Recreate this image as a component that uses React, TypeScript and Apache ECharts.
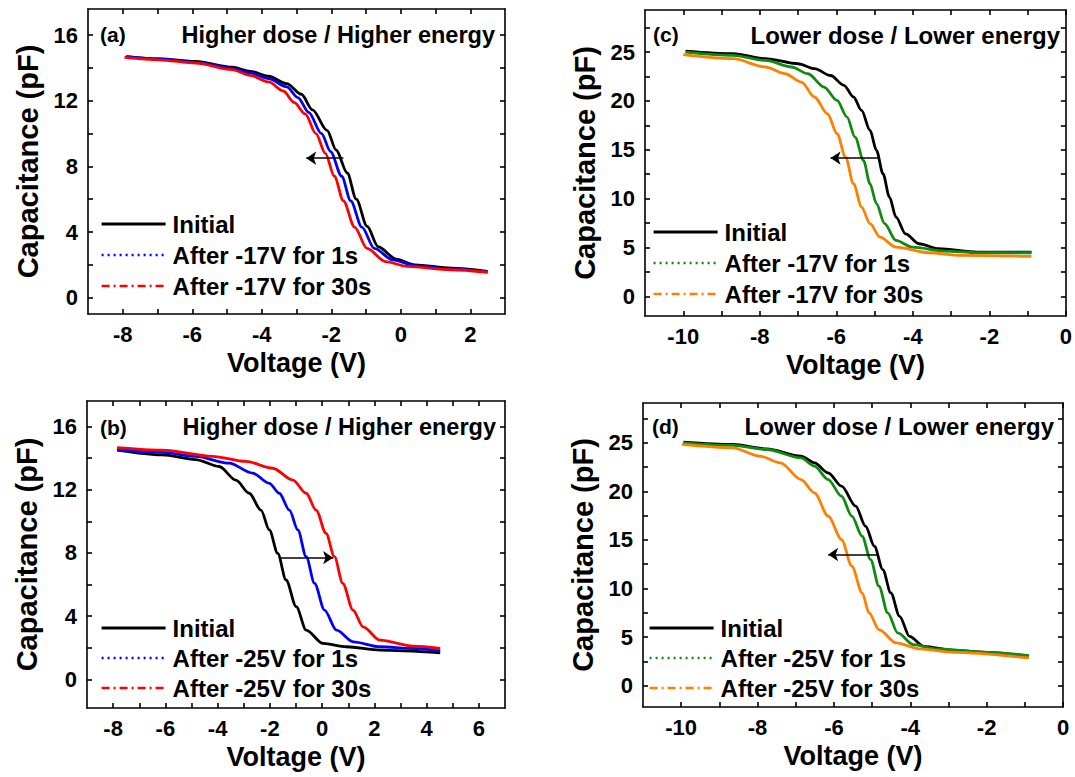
import React, { useEffect, useRef } from 'react';
import * as echarts from 'echarts';

const FONT = '"Liberation Sans", Arial, Helvetica, sans-serif';

// ---------- Panel (a): Higher dose / Higher energy, -17V ----------
const aInitial = [[-7.9,14.7],[-6.95,14.55],[-5.9,14.4],[-4.85,14.05],[-4.33,13.8],[-3.8,13.5],[-3.28,13.05],[-2.86,12.4],[-2.54,11.45],[-2.12,10.2],[-1.86,9.0],[-1.54,7.6],[-1.28,6.0],[-0.97,4.35],[-0.65,3.1],[-0.13,2.35],[0.4,2.0],[1.45,1.8],[2.5,1.6]];
const aAfter1s = [[-7.9,14.7],[-6.95,14.55],[-5.9,14.35],[-4.85,14.0],[-4.33,13.7],[-3.8,13.35],[-3.28,12.85],[-2.96,12.2],[-2.65,11.3],[-2.28,10.0],[-2.02,8.9],[-1.7,7.4],[-1.44,5.9],[-1.12,4.3],[-0.76,3.0],[-0.23,2.3],[0.4,1.95],[1.45,1.75],[2.5,1.55]];
const aAfter30s = [[-7.95,14.65],[-6.95,14.5],[-5.9,14.3],[-4.85,13.9],[-4.33,13.55],[-3.8,13.15],[-3.38,12.6],[-3.07,11.9],[-2.75,11.2],[-2.44,10.0],[-2.17,8.8],[-1.91,7.4],[-1.65,5.9],[-1.33,4.3],[-0.97,3.0],[-0.44,2.2],[0.19,1.9],[1.45,1.7],[2.5,1.55]];
const aArrow = [[-1.65, 8.5], [-2.72, 8.5]];

// ---------- Panel (b): Higher dose / Higher energy, -25V ----------
const bInitial = [[-7.85,14.5],[-6.12,14.2],[-4.84,13.9],[-3.94,13.46],[-3.3,12.6],[-2.79,11.77],[-2.34,10.7],[-2.02,9.45],[-1.7,7.97],[-1.38,6.29],[-0.99,4.6],[-0.61,3.12],[0.03,2.28],[0.93,2.07],[2.21,1.86],[4.52,1.69]];
const bAfter1s = [[-7.85,14.55],[-6.12,14.35],[-4.84,14.1],[-3.56,13.67],[-2.66,13.04],[-2.02,12.4],[-1.64,11.77],[-1.25,10.7],[-0.93,9.45],[-0.61,7.76],[-0.29,6.08],[0.09,4.39],[0.55,3.12],[1.19,2.38],[2.21,2.07],[3.49,1.96],[4.52,1.81]];
const bAfter30s = [[-7.85,14.66],[-6.12,14.5],[-4.2,14.1],[-2.92,13.78],[-1.89,13.35],[-1.12,12.6],[-0.61,11.77],[-0.23,10.7],[0.15,9.24],[0.47,7.76],[0.79,6.08],[1.18,4.39],[1.57,3.33],[2.21,2.49],[3.49,2.11],[4.52,1.96]];
const bArrow = [[-1.64, 7.7], [0.42, 7.7]];

// ---------- Panel (c): Lower dose / Lower energy, -17V ----------
const cInitial = [[-9.94,25.1],[-8.7,24.83],[-7.85,24.32],[-7.0,23.8],[-6.57,23.3],[-6.15,22.6],[-5.8,21.6],[-5.55,20.4],[-5.34,19.03],[-5.12,17.0],[-4.95,14.94],[-4.78,12.55],[-4.61,10.16],[-4.44,8.12],[-4.19,6.41],[-3.84,5.39],[-3.33,4.88],[-2.31,4.54],[-0.9,4.54]];
const cAfter1s = [[-9.94,25.0],[-8.7,24.66],[-7.85,24.15],[-7.17,23.47],[-6.74,22.78],[-6.32,21.42],[-5.98,20.05],[-5.72,18.35],[-5.51,16.3],[-5.29,13.92],[-5.12,11.53],[-4.95,9.48],[-4.74,7.44],[-4.44,5.73],[-4.02,5.05],[-3.16,4.64],[-2.31,4.47],[-0.9,4.47]];
const cAfter30s = [[-10,24.73],[-8.7,24.32],[-7.85,23.47],[-7.34,22.78],[-6.91,21.93],[-6.57,20.4],[-6.23,18.69],[-5.98,16.64],[-5.76,14.26],[-5.55,11.53],[-5.34,9.14],[-5.12,7.44],[-4.86,6.07],[-4.44,5.05],[-3.59,4.47],[-2.74,4.2],[-0.9,4.09]];
const cArrow = [[-4.91, 14.15], [-6.15, 14.15]];

// ---------- Panel (d): Lower dose / Lower energy, -25V ----------
const dInitial = [[-9.94,25.07],[-8.65,24.83],[-7.76,24.38],[-6.86,23.63],[-6.51,22.94],[-6.15,21.9],[-5.8,20.54],[-5.43,18.48],[-5.17,16.41],[-4.94,14.35],[-4.72,11.95],[-4.51,9.55],[-4.28,7.14],[-4.02,5.08],[-3.65,4.05],[-2.86,3.64],[-1.96,3.43],[-0.89,3.02]];
const dAfter1s = [[-9.94,25.0],[-8.65,24.73],[-7.76,24.31],[-6.86,23.45],[-6.51,22.6],[-6.15,21.22],[-5.8,19.5],[-5.53,17.45],[-5.26,15.38],[-5.04,12.98],[-4.82,10.23],[-4.59,7.49],[-4.33,5.43],[-3.92,4.22],[-3.3,3.78],[-1.96,3.43],[-0.89,3.09]];
const dAfter30s = [[-9.98,24.83],[-8.65,24.48],[-7.94,23.63],[-7.4,22.94],[-6.86,21.22],[-6.51,19.85],[-6.15,17.45],[-5.8,15.04],[-5.53,12.29],[-5.26,9.55],[-5.08,7.49],[-4.82,5.77],[-4.37,4.4],[-3.75,3.78],[-2.86,3.43],[-0.89,2.85]];
const dArrow = [[-4.86, 13.5], [-6.15, 13.5]];

// ---------- Axis ticks and labels ----------
const xTicksA = [-8,-7,-6,-5,-4,-3,-2,-1,0,1,2];
const xLabelsA = [-8,-6,-4,-2,0,2];
const xTicksB = [-8,-7,-6,-5,-4,-3,-2,-1,0,1,2,3,4,5,6];
const xLabelsB = [-8,-6,-4,-2,0,2,4,6];
const xTicksCD = [-10,-9,-8,-7,-6,-5,-4,-3,-2,-1,0];
const xLabelsCD = [-10,-8,-6,-4,-2,0];
const yTicksAB = [0,2,4,6,8,10,12,14,16];
const yLabelsAB = [0,4,8,12,16];
const yTicksCD = [0,2.5,5,7.5,10,12.5,15,17.5,20,22.5,25,27.5];
const yLabelsCD = [0,5,10,15,20,25];

const namesTop = ['Initial', 'After -17V for 1s', 'After -17V for 30s'];
const namesBottom = ['Initial', 'After -25V for 1s', 'After -25V for 30s'];
const panelLetters = ['(a)', '(b)', '(c)', '(d)'];
const panelTitles = ['Higher dose / Higher energy', 'Higher dose / Higher energy', 'Lower dose / Lower energy', 'Lower dose / Lower energy'];

// ---------- Layout (positions / styles) ----------
const panels = [
  { grid: { left: 88, top: 9, width: 417, height: 305 }, xr: [-9, 3], yr: [-1, 17.6], xt: xTicksA, xl: xLabelsA, yt: yTicksAB, yl: yLabelsAB,
    series: [aInitial, aAfter1s, aAfter30s], names: namesTop, colors: ['#000000', '#0000ff', '#ff0000'], arrow: aArrow,
    legend: { left: 100, top: 212, gap: 7 }, letter: [100, 34], title: [495, 35] },
  { grid: { left: 87, top: 401, width: 418, height: 307 }, xr: [-9, 7], yr: [-1.8, 17.6], xt: xTicksB, xl: xLabelsB, yt: yTicksAB, yl: yLabelsAB,
    series: [bInitial, bAfter1s, bAfter30s], names: namesBottom, colors: ['#000000', '#0000ff', '#ff0000'], arrow: bArrow,
    legend: { left: 100, top: 616, gap: 6 }, letter: [100, 427], title: [496, 427] },
  { grid: { left: 645, top: 10, width: 427, height: 306 }, xr: [-11, 0], yr: [-2, 29.3], xt: xTicksCD, xl: xLabelsCD, yt: yTicksCD, yl: yLabelsCD,
    series: [cInitial, cAfter1s, cAfter30s], names: namesTop, colors: ['#000000', '#108a10', '#ff8000'], arrow: cArrow,
    legend: { left: 652, top: 220, gap: 7 }, letter: [653, 34], title: [1060, 35] },
  { grid: { left: 643, top: 403, width: 420, height: 304 }, xr: [-11, 0], yr: [-2.2, 29.1], xt: xTicksCD, xl: xLabelsCD, yt: yTicksCD, yl: yLabelsCD,
    series: [dInitial, dAfter1s, dAfter30s], names: namesBottom, colors: ['#000000', '#108a10', '#ff8000'], arrow: dArrow,
    legend: { left: 648, top: 616, gap: 6 }, letter: [652, 426], title: [1054, 426] },
];

const lineTypes: any[] = ['solid', [2, 4], [8, 4, 2, 4]];
const axisLineStyle = { color: '#000', width: 1.6 };
const labelStyle = { fontSize: 22, fontWeight: 'bold', color: '#000', fontFamily: FONT };
const nameStyle = { fontWeight: 'bold', color: '#000', fontFamily: FONT };

function buildOption() {
  const grid: any[] = [];
  const xAxis: any[] = [];
  const yAxis: any[] = [];
  const series: any[] = [];
  const legend: any[] = [];
  const graphic: any[] = [];

  panels.forEach((p, i) => {
    grid.push({ ...p.grid, containLabel: false });
    const baseX = {
      type: 'value', gridIndex: i, min: p.xr[0], max: p.xr[1],
      axisLine: { show: true, onZero: false, lineStyle: axisLineStyle },
      axisTick: { show: true, inside: true, length: 5, customValues: p.xt, lineStyle: axisLineStyle },
      splitLine: { show: false },
    };
    xAxis.push({
      ...baseX, position: 'bottom',
      axisLabel: { ...labelStyle, customValues: p.xl, margin: 9 },
      name: 'Voltage (V)', nameLocation: 'middle', nameGap: 35,
      nameTextStyle: { ...nameStyle, fontSize: 27 },
    });
    xAxis.push({ ...baseX, position: 'top', axisLabel: { show: false } });
    const baseY = {
      type: 'value', gridIndex: i, min: p.yr[0], max: p.yr[1],
      axisLine: { show: true, onZero: false, lineStyle: axisLineStyle },
      axisTick: { show: true, inside: true, length: 5, customValues: p.yt, lineStyle: axisLineStyle },
      splitLine: { show: false },
    };
    yAxis.push({
      ...baseY, position: 'left',
      axisLabel: { ...labelStyle, customValues: p.yl, margin: 10 },
      name: 'Capacitance (pF)', nameLocation: 'middle', nameGap: 46,
      nameTextStyle: { ...nameStyle, fontSize: 29 },
    });
    yAxis.push({ ...baseY, position: 'right', axisLabel: { show: false } });

    p.series.forEach((data, k) => {
      const s: any = {
        type: 'line', name: p.names[k], data,
        xAxisIndex: 2 * i, yAxisIndex: 2 * i,
        symbol: 'none', showSymbol: false,
        smooth: 0.3, smoothMonotone: 'x',
        lineStyle: { color: p.colors[k], width: 2.8 },
        itemStyle: { color: p.colors[k] },
        z: 2 + k,
      };
      if (k === 0) {
        s.markLine = {
          silent: true, symbol: ['none', 'arrow'], symbolSize: 10,
          label: { show: false },
          lineStyle: { color: '#000', width: 1.5, type: 'solid' },
          data: [[{ coord: p.arrow[0] }, { coord: p.arrow[1] }]],
          z: 10,
        };
      }
      series.push(s);
    });

    legend.push({
      left: p.legend.left, top: p.legend.top, orient: 'vertical',
      itemWidth: 64, itemHeight: 14, itemGap: p.legend.gap, padding: 0,
      selectedMode: false,
      textStyle: { fontSize: 24, fontWeight: 'bold', color: '#000', fontFamily: FONT, padding: [0, 0, 0, 2] },
      itemStyle: { opacity: 0 },
      data: p.names.map((n, k) => ({
        name: n,
        lineStyle: { color: p.colors[k], width: k === 0 ? 3.2 : 2.6, type: lineTypes[k], opacity: 1 },
        itemStyle: { opacity: 0, color: p.colors[k] },
      })),
    });

    graphic.push({
      type: 'text', x: p.letter[0], y: p.letter[1],
      style: { text: panelLetters[i], fill: '#000', font: `bold 21px ${FONT}`, align: 'left', verticalAlign: 'middle', textAlign: 'left', textVerticalAlign: 'middle' },
    });
    graphic.push({
      type: 'text', x: p.title[0], y: p.title[1],
      style: { text: panelTitles[i], fill: '#000', font: `bold ${i < 2 ? 23.5 : 24}px ${FONT}`, align: 'right', verticalAlign: 'middle', textAlign: 'right', textVerticalAlign: 'middle' },
    });
  });

  return {
    animation: false,
    backgroundColor: '#ffffff',
    grid, xAxis, yAxis, series, legend, graphic,
  };
}

export default function App() {
  const ref = useRef<HTMLDivElement>(null);
  useEffect(() => {
    if (!ref.current) return;
    const chart = echarts.init(ref.current, undefined, { renderer: 'svg' });
    chart.setOption(buildOption() as any);
    return () => chart.dispose();
  }, []);
  return <div ref={ref} style={{ position: 'absolute', left: 0, top: 0, width: 1075, height: 777, background: '#fff' }} />;
}
